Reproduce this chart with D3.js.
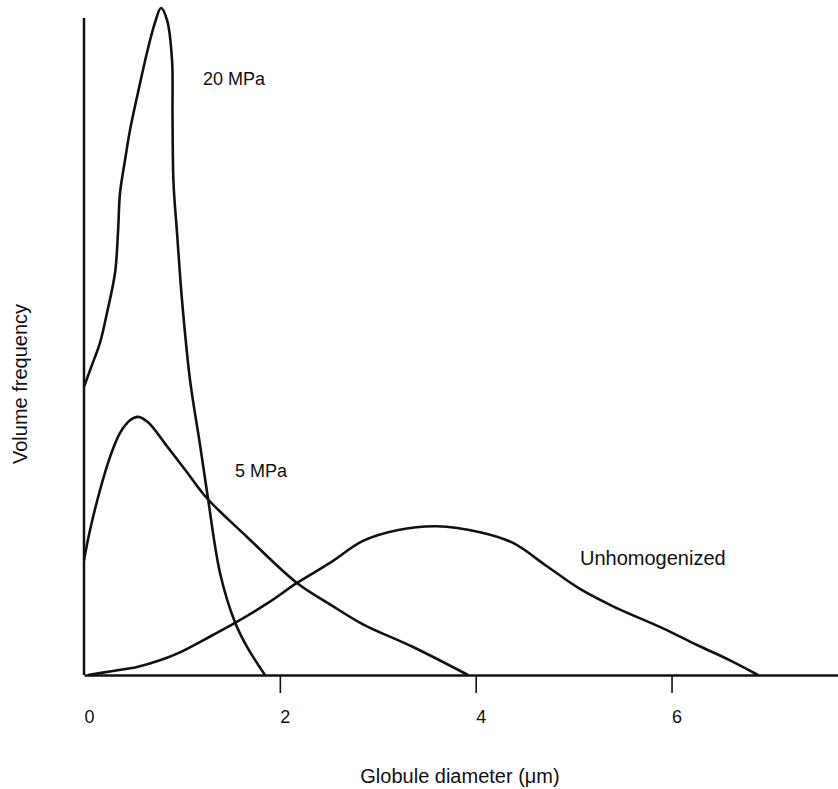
<!DOCTYPE html>
<html>
<head>
<meta charset="utf-8">
<script src="https://d3js.org/d3.v7.min.js"></script>
<style>
    body { margin: 0; background: #fff; }
    svg text { font-family: "Liberation Sans", Arial, sans-serif; fill: #111; }
</style>
</head>
<body>
<svg width="838" height="789"></svg>
<script>
// Curves: diameter in um, volume frequency in arbitrary units
var mpa20Diameter = [0, 0.082, 0.163, 0.235, 0.317, 0.347, 0.368, 0.419, 0.470, 0.551, 0.643,
    0.725, 0.786, 0.848, 0.899, 0.904, 0.914, 0.950, 1.001, 1.083, 1.185, 1.266,
    1.389, 1.542, 1.665, 1.848];
var mpa20Freq = [43.2, 46.5, 49.8, 54.3, 60.3, 66.3, 72.3, 77.2, 81.7, 87.3, 93.3,
    97.8, 100, 98.2, 92.2, 83.7, 73.8, 66.3, 56.2, 44.2, 34.5, 26.5,
    15.3, 7.9, 4.2, 0];

var mpa5Diameter = [0, 0.061, 0.163, 0.266, 0.368, 0.470, 0.551, 0.654, 0.837, 1.052, 1.256,
    1.665, 2.175, 2.512, 2.849, 3.360, 3.922];
var mpa5Freq = [17.2, 21.7, 27.7, 32.7, 36.3, 38.2, 38.7, 37.9, 34.5, 30.4, 26.5,
    20.7, 13.8, 10.6, 7.6, 4.2, 0];

var unhomDiameter = [0.041, 0.296, 0.541, 0.776, 0.980, 1.317, 1.542, 1.879, 2.175, 2.512, 2.849,
    3.197, 3.605, 4.044, 4.381, 4.728, 5.065, 5.402, 5.913, 6.260, 6.597, 6.883];
var unhomFreq = [0, 0.6, 1.2, 2.2, 3.4, 6.0, 7.8, 10.8, 13.8, 16.8, 20.1,
    21.7, 22.3, 21.4, 19.8, 16.3, 12.9, 10.3, 7.0, 4.5, 2.2, 0];

var xTickValues = [0, 2, 4, 6];
var yAxisTop = 98.5;

var svg = d3.select('svg');
var svgWidth = +svg.attr('width');

var x = d3.scaleLinear().domain([0, 7.7]).range([84, svgWidth]);
var y = d3.scaleLinear().domain([0, 100]).range([675, 8]);

// x axis: long baseline, ticks only at 2, 4, 6
var xAxisG = svg.append('g')
    .attr('transform', 'translate(0,' + y(0) + ')')
    .call(d3.axisBottom(x).tickValues(xTickValues).tickSize(18).tickSizeOuter(0).tickPadding(17)
        .tickFormat(d3.format('d')));

xAxisG.select('.domain').attr('stroke', '#111').attr('stroke-width', 2.5);
xAxisG.selectAll('.tick line').attr('stroke', '#111').attr('stroke-width', 1.6)
    .filter(function(d) { return d === 0; }).remove();
xAxisG.selectAll('.tick text')
    .attr('dx', 5)
    .style('font-size', '18px')
    .attr('fill', '#111');

// y axis is a bare line
svg.append('line')
    .attr('x1', x(0)).attr('x2', x(0))
    .attr('y1', y(0)).attr('y2', y(yAxisTop))
    .attr('stroke', '#111')
    .attr('stroke-width', 2.5);

var line = d3.line()
    .x(function(d) { return x(d[0]); })
    .y(function(d) { return y(d[1]); })
    .curve(d3.curveCatmullRom.alpha(0.5));

var curves = [
    d3.zip(mpa20Diameter, mpa20Freq),
    d3.zip(mpa5Diameter, mpa5Freq),
    d3.zip(unhomDiameter, unhomFreq)
];

svg.selectAll('.curve')
    .data(curves)
    .enter()
    .append('path')
    .attr('class', 'curve')
    .attr('d', line)
    .attr('fill', 'none')
    .attr('stroke', '#111')
    .attr('stroke-width', 2.6)
    .attr('stroke-linejoin', 'round');

// curve labels
svg.append('text').attr('x', 203).attr('y', 85).style('font-size', '18px').text('20 MPa');
svg.append('text').attr('x', 235).attr('y', 477).style('font-size', '18px').text('5 MPa');
svg.append('text').attr('x', 580).attr('y', 565).style('font-size', '20px').text('Unhomogenized');

// axis titles
svg.append('text')
    .attr('x', 460).attr('y', 783)
    .attr('text-anchor', 'middle')
    .style('font-size', '20px')
    .text('Globule diameter (\u03bcm)');

svg.append('text')
    .attr('transform', 'translate(' + [27, 384] + ') rotate(-90)')
    .attr('text-anchor', 'middle')
    .style('font-size', '20px')
    .text('Volume frequency');
</script>
</body>
</html>
